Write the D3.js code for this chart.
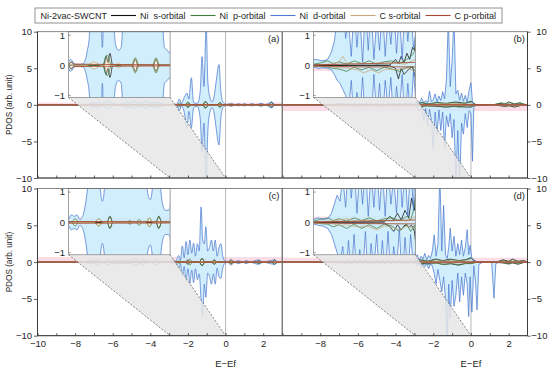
<!DOCTYPE html>
<html>
<head>
<meta charset="utf-8">
<script src="https://cdn.jsdelivr.net/npm/d3@7"></script>
<style>
body { margin: 0; background: #fff; }
svg { font-family: "Liberation Sans", Arial, sans-serif; }
</style>
</head>
<body>
<div class="chartArea"></div>
<script>
// ---- data (energy E-Ef, spin up, spin down) ----
const legendTitle = 'Ni-2vac-SWCNT'
const legendLabels = ['Ni\u00a0 s-orbital', 'Ni\u00a0 p-orbital', 'Ni\u00a0 d-orbital', 'C s-orbital', 'C p-orbital']
const panelLabels = ['(a)', '(b)', '(c)', '(d)']

const xTicks = [-10, -9, -8, -7, -6, -5, -4, -3, -2, -1, 0, 1, 2]
const xLabelValues = [-10, -8, -6, -4, -2, 0, 2]
const yTicks = [-10, -5, 0, 5, 10]
const insetTicks = [-0.1, 0, 0.1]
const insetTickLabels = ['\u22121', '0', '1']

const insetEnergy = [-8.35, -2.95]       // zoomed energy window
const insetRange = [-0.107, 0.112]       // zoomed PDOS window (shown x10)
const insetSpan = [1, 10]                // where the inset sits in main PDOS units
const zoomLink = [[-8.35, 1], [-2.95, 1], [0, -10], [-2.95, -10]]

// pink C p bands [low, high]
const bandMain = { a: [0, 0.3], b: [-0.85, 0], c: [0, 0.7], d: [-0.1, 0.6] }
const bandInset = { a: [-0.006, 0.006], b: [-0.019, -0.003], c: [0, 0.015], d: [0.002, 0.019] }

// panel (a)
const niD_a = [[-10,0,0],[-8.5,0.002,-0.002],[-8.35,0.01,-0.01],[-8.25,0.02,-0.02],[-8.15,0.015,-0.015],[-8.05,0.005,-0.005],
  [-7.8,0.003,-0.003],[-7.6,0.005,-0.005],[-7.45,0.02,-0.02],[-7.35,0.05,-0.05],[-7.25,0.09,-0.09],[-7.1,0.3,-0.3],
  [-6.9,0.2,-0.2],[-6.7,0.4,-0.4],[-6.55,0.06,-0.06],[-6.45,0.3,-0.3],[-6.25,0.5,-0.5],[-6.0,0.2,-0.2],[-5.85,0.07,-0.07],
  [-5.7,0.05,-0.05],[-5.55,0.06,-0.06],[-5.4,0.25,-0.25],[-5.25,0.4,-0.4],[-5.05,0.3,-0.3],[-4.85,0.5,-0.5],[-4.6,0.2,-0.2],
  [-4.4,0.3,-0.3],[-4.2,0.5,-0.5],[-4.0,0.2,-0.2],[-3.8,0.4,-0.4],[-3.6,0.3,-0.3],[-3.4,0.2,-0.2],[-3.25,0.06,-0.06],
  [-3.1,0.05,-0.05],[-2.95,0.04,-0.04],[-2.8,0.1,-0.1],[-2.6,0.05,-0.05],[-2.45,0.8,-0.8],[-2.35,0.15,-0.15],[-2.2,1.0,-1.0],
  [-2.05,1.6,-3.1],[-1.95,0.8,-0.9],[-1.82,3.7,-3.1],[-1.7,0.3,-0.4],[-1.5,0.2,-0.2],[-1.35,1.8,-1.8],[-1.25,6.6,-6.4],
  [-1.15,2.5,-2.5],[-1.03,11,-11],[-0.95,3.5,-4],[-0.85,1.2,-1.2],[-0.72,0.4,-0.4],[-0.6,1.3,-1.3],[-0.5,3.2,-3.2],
  [-0.35,5.5,-5.5],[-0.25,1.8,-1.8],[-0.12,0.3,-0.3],[0.05,0.05,-0.05],[0.3,0.2,-0.2],[0.5,0.03,-0.03],[0.7,0.15,-0.15],
  [0.85,0.03,-0.03],[1.0,0.15,-0.15],[1.2,0.02,-0.02],[1.4,0.15,-0.15],[1.6,0.02,-0.02],[1.9,0.2,-0.2],[2.1,0.02,-0.02],
  [2.45,0.4,-0.4],[2.6,0.02,-0.02],[3,0,0]]
const niS_a = [[-10,0,0],[-6.5,0,0],[-6.35,0.03,-0.03],[-6.25,0.01,-0.01],[-6.15,0.04,-0.04],[-6.0,0,0],[-4.95,0,0],
  [-4.8,0.02,-0.02],[-4.65,0,0],[-3.85,0,0],[-3.7,0.02,-0.02],[-3.55,0,0],[-2.15,0,0],[-2.0,0.3,-0.3],[-1.85,0,0],
  [-1.2,0,0],[-1.05,0.4,-0.4],[-0.9,0,0],[-0.45,0,0],[-0.3,0.3,-0.3],[-0.15,0,0],[2.3,0,0],[2.45,0.35,-0.35],[2.6,0,0],[3,0,0]]
const niP_a = [[-10,0,0],[-8.4,0,0],[-8.2,0.012,-0.012],[-8.0,0,0],[-6.55,0,0],[-6.3,0.035,-0.035],[-6.05,0,0],[-5.0,0,0],
  [-4.8,0.025,-0.025],[-4.6,0,0],[-3.9,0,0],[-3.7,0.025,-0.025],[-3.5,0,0],[-2.6,0,0],[-2.45,0.25,-0.25],[-2.3,0,0],
  [-2.15,0,0],[-2.0,0.4,-0.4],[-1.85,0,0],[-1.25,0,0],[-1.08,0.5,-0.5],[-0.9,0,0],[-0.45,0,0],[-0.3,0.35,-0.35],[-0.15,0,0],
  [0.2,0,0],[0.3,0.15,-0.15],[0.4,0,0],[0.6,0,0],[0.7,0.1,-0.1],[0.8,0,0],[0.9,0,0],[1.0,0.12,-0.12],[1.1,0,0],[1.3,0,0],
  [1.4,0.12,-0.12],[1.5,0,0],[1.8,0,0],[1.9,0.15,-0.15],[2.0,0,0],[2.3,0,0],[2.45,0.3,-0.3],[2.6,0,0],[3,0,0]]
const cS_a = [[-10,0,0],[-7.4,0,0],[-7.0,0.012,-0.012],[-6.6,0,0],[-6.45,0,0],[-6.3,0.02,-0.02],[-6.15,0,0],[-5.9,0,0],
  [-5.7,0.008,-0.008],[-5.5,0,0],[-5.0,0,0],[-4.8,0.02,-0.02],[-4.6,0,0],[-3.9,0,0],[-3.7,0.02,-0.02],[-3.5,0,0],
  [0.15,0,0],[0.3,0.2,-0.2],[0.45,0,0],[3,0,0]]
const cP_a = [[-10,0,0],[-8.35,0.004,-0.004],[-8.2,0.01,-0.01],[-8.05,0.004,-0.004],[3,0,0]]

// panel (b)
const niD_b = [[-10,0,0],[-8.5,0.02,-0.005],[-8.35,0.02,-0.005],[-8.1,0.018,-0.01],[-7.85,0.015,-0.008],[-7.6,0.02,-0.01],
  [-7.4,0.045,-0.015],[-7.25,0.08,-0.03],[-7.1,0.15,-0.05],[-6.95,0.13,-0.06],[-6.8,0.2,-0.08],[-6.65,0.09,-0.1],
  [-6.5,0.15,-0.15],[-6.35,0.03,-0.05],[-6.2,0.2,-0.2],[-6.05,0.06,-0.09],[-5.9,0.18,-0.18],[-5.75,0.01,-0.04],
  [-5.6,0.2,-0.2],[-5.45,0.05,-0.12],[-5.3,0.2,-0.2],[-5.15,0.02,-0.03],[-5.0,0.16,-0.18],[-4.85,0.05,-0.06],
  [-4.7,0.2,-0.2],[-4.55,0.03,-0.05],[-4.4,0.17,-0.15],[-4.25,0.07,-0.04],[-4.1,0.2,-0.2],[-3.95,0.04,-0.07],
  [-3.8,0.18,-0.16],[-3.65,0.02,-0.03],[-3.5,0.2,-0.2],[-3.35,0.08,-0.06],[-3.2,0.2,-0.18],[-3.05,0.06,-0.02],
  [-2.95,0.1,-0.1],[-2.85,0.5,-0.2],[-2.75,0.2,-0.9],[-2.62,0.9,-0.3],[-2.5,0.3,-2.2],[-2.4,0.6,-0.5],[-2.3,0.2,-3.0],
  [-2.2,1.9,-0.6],[-2.1,0.4,-2.0],[-2.0,0.7,-6.0],[-1.9,1.5,-1.0],[-1.8,0.4,-4.0],[-1.7,1.2,-0.7],[-1.6,0.6,-3.5],
  [-1.5,1.8,-1.0],[-1.4,0.8,-5.9],[-1.3,3.5,-1.5],[-1.2,12,-3.0],[-1.1,2.5,-1.2],[-1.0,6,-4.5],[-0.9,12,-2.0],
  [-0.8,1.5,-11],[-0.7,2.0,-3.5],[-0.6,0.6,-11],[-0.5,1.6,-2.5],[-0.4,0.5,-4.0],[-0.3,1.3,-1.2],[-0.2,0.3,-3.1],
  [-0.1,2.0,-0.8],[0.0,3.0,-1.2],[0.08,0.4,-7.7],[0.15,0.05,-0.4],[0.3,0,0],[3,0,0]]
const niS_b = [[-10,0,0],[-4.3,0.001,-0.001],[-4.0,0.02,-0.01],[-3.85,0.005,-0.045],[-3.7,0.03,-0.01],[-3.55,0.01,-0.03],
  [-3.4,0.04,-0.02],[-3.25,0.02,-0.01],[-3.1,0.06,-0.005],[-3.0,0.05,-0.03],[-2.9,0.1,-0.05],[-2.6,0.3,-0.2],[-2.3,0.1,-0.1],
  [-1.8,0.3,-0.2],[-1.3,0.2,-0.3],[-0.8,0.4,-0.2],[-0.3,0.2,-0.3],[0.0,0.5,-0.3],[0.2,0.05,-0.05],[1.2,0.02,-0.02],
  [1.5,0.2,-0.1],[1.8,0.1,-0.2],[2.0,0.4,-0.1],[2.3,0.1,-0.3],[2.6,0.3,-0.1],[2.8,0.05,-0.05],[3,0,0]]
const niP_b = [[-10,0,0],[-8.35,0.004,-0.002],[-8.0,0.008,-0.004],[-7.6,0.015,-0.006],[-7.3,0.006,-0.01],[-7.0,0.012,-0.012],
  [-6.6,0.004,-0.02],[-6.2,0.015,-0.006],[-5.8,0.006,-0.015],[-5.4,0.015,-0.006],[-5.0,0.004,-0.018],[-4.6,0.012,-0.006],
  [-4.2,0.015,-0.012],[-3.8,0.006,-0.02],[-3.4,0.02,-0.006],[-3.1,0.035,-0.005],[-2.95,0.05,-0.02],[-2.6,0.3,-0.1],
  [-2.2,0.1,-0.2],[-1.8,0.35,-0.1],[-1.4,0.1,-0.3],[-1.0,0.3,-0.2],[-0.6,0.2,-0.3],[-0.2,0.3,-0.1],[0.05,0.4,-0.2],
  [0.3,0.02,-0.02],[1.3,0.02,-0.02],[1.6,0.3,-0.1],[1.9,0.1,-0.2],[2.1,0.3,-0.1],[2.4,0.1,-0.2],[2.7,0.2,-0.05],[3,0,0]]
const cS_b = [[-10,0,0],[-7.4,0.004,-0.004],[-7.0,0.012,-0.008],[-6.8,0.03,-0.008],[-6.6,0.008,-0.008],[-6.0,0.004,-0.015],
  [-5.7,0.008,-0.025],[-5.3,0.004,-0.015],[-4.9,0.008,-0.025],[-4.5,0.004,-0.012],[-4.0,0.008,-0.015],[-3.5,0.004,-0.008],
  [-2.95,0.02,-0.02],[-2.0,0.1,-0.1],[-1.0,0.15,-0.1],[0,0.1,-0.1],[0.3,0,0],[3,0,0]]
const cP_b = [[-10,0,0],[-6,0.005,-0.005],[-3,0.01,-0.005],[0,0.05,-0.05],[3,0,0]]

// panel (c)
const niD_c = [[-10,0,0],[-8.5,0.003,-0.003],[-8.35,0.01,-0.01],[-8.2,0.025,-0.025],[-8.05,0.02,-0.02],[-7.9,0.025,-0.025],
  [-7.75,0.01,-0.01],[-7.6,0.02,-0.02],[-7.45,0.06,-0.06],[-7.3,0.13,-0.13],[-7.15,0.2,-0.2],[-7.0,0.15,-0.15],
  [-6.85,0.4,-0.4],[-6.7,0.15,-0.15],[-6.55,0.07,-0.07],[-6.4,0.15,-0.15],[-6.25,0.4,-0.4],[-6.05,0.2,-0.2],
  [-5.85,0.15,-0.15],[-5.65,0.25,-0.25],[-5.45,0.15,-0.15],[-5.25,0.2,-0.2],[-5.05,0.15,-0.15],[-4.85,0.5,-0.5],
  [-4.7,0.4,-0.4],[-4.55,0.15,-0.15],[-4.4,0.4,-0.4],[-4.2,0.12,-0.12],[-4.0,0.075,-0.075],[-3.85,0.15,-0.15],
  [-3.7,0.4,-0.4],[-3.5,0.15,-0.15],[-3.35,0.06,-0.06],[-3.2,0.04,-0.04],[-3.05,0.04,-0.04],[-2.95,0.05,-0.05],
  [-2.8,0.3,-0.3],[-2.65,0.1,-0.1],[-2.5,0.9,-0.9],[-2.4,0.3,-0.3],[-2.3,2.2,-2.0],[-2.2,0.6,-0.6],[-2.1,2.8,-2.6],
  [-2.0,1.0,-0.9],[-1.9,3.0,-2.9],[-1.8,1.2,-1.1],[-1.7,2.6,-2.8],[-1.6,0.8,-0.9],[-1.5,2.5,-2.4],[-1.4,1.5,-1.6],
  [-1.3,7.5,-5.2],[-1.22,3.0,-7.4],[-1.13,2.5,-3.0],[-1.05,4.8,-4.8],[-0.95,1.5,-1.5],[-0.85,2.0,-2.0],[-0.75,3.0,-3.0],
  [-0.65,1.5,-1.6],[-0.55,3.0,-3.0],[-0.45,0.8,-0.8],[-0.35,2.0,-2.0],[-0.25,2.5,-2.2],[-0.15,0.8,-0.8],[-0.05,0.2,-0.2],
  [0.1,0.05,-0.05],[0.3,0.4,-0.4],[0.45,0.05,-0.05],[0.7,0.2,-0.2],[0.9,0.03,-0.03],[1.1,0.2,-0.2],[1.3,0.03,-0.03],
  [1.75,0.3,-0.3],[2.0,0.03,-0.03],[2.6,0.3,-0.3],[2.8,0.02,-0.02],[3,0,0]]
const niS_c = [[-10,0,0],[-6.3,0,0],[-6.15,0.02,-0.02],[-6.0,0,0],[-3.7,0,0],[-3.55,0.02,-0.02],[-3.4,0,0],[-2.15,0,0],
  [-2.0,0.3,-0.3],[-1.85,0,0],[-1.4,0,0],[-1.25,0.5,-0.5],[-1.1,0,0],[-0.75,0,0],[-0.6,0.3,-0.3],[-0.45,0,0],[0.15,0,0],
  [0.3,0.2,-0.2],[0.45,0,0],[1.6,0,0],[1.75,0.2,-0.2],[1.9,0,0],[2.45,0,0],[2.6,0.3,-0.3],[2.75,0,0],[3,0,0]]
const niP_c = [[-10,0,0],[-8.2,0,0],[-8.0,0.012,-0.012],[-7.8,0,0],[-6.95,0,0],[-6.75,0.012,-0.012],[-6.55,0,0],[-6.3,0,0],
  [-6.15,0.02,-0.02],[-6.0,0,0],[-5.25,0,0],[-5.1,0.006,-0.006],[-4.95,0,0],[-4.75,0,0],[-4.6,0.01,-0.01],[-4.45,0,0],
  [-4.2,0,0],[-4.05,0.015,-0.015],[-3.9,0,0],[-3.7,0,0],[-3.55,0.02,-0.02],[-3.4,0,0],[-2.6,0,0],[-2.45,0.2,-0.2],
  [-2.3,0,0],[-2.05,0,0],[-1.9,0.4,-0.4],[-1.75,0,0],[-1.4,0,0],[-1.25,0.5,-0.5],[-1.1,0,0],[-0.75,0,0],[-0.6,0.3,-0.3],
  [-0.45,0,0],[0.15,0,0],[0.3,0.2,-0.2],[0.45,0,0],[0.6,0,0],[0.7,0.1,-0.1],[0.8,0,0],[1.0,0,0],[1.1,0.15,-0.15],[1.2,0,0],
  [1.6,0,0],[1.75,0.2,-0.2],[1.9,0,0],[2.45,0,0],[2.6,0.3,-0.3],[2.75,0,0],[3,0,0]]
const cS_c = [[-10,0,0],[-7.0,0,0],[-6.75,0.012,-0.012],[-6.5,0,0],[-4.25,0,0],[-4.05,0.015,-0.015],[-3.85,0,0],[0.1,0,0],
  [0.3,0.3,-0.3],[0.5,0,0],[3,0,0]]
const cP_c = [[-10,0,0],[-8.1,0.003,-0.003],[3,0,0]]

// panel (d)
const niD_d = [[-10,0,0],[-8.5,0.01,-0.005],[-8.35,0.01,-0.005],[-8.1,0.015,-0.01],[-7.85,0.01,-0.012],[-7.6,0.012,-0.02],
  [-7.4,0.03,-0.04],[-7.25,0.06,-0.07],[-7.1,0.09,-0.1],[-6.95,0.07,-0.13],[-6.8,0.15,-0.08],[-6.65,0.05,-0.2],
  [-6.5,0.2,-0.06],[-6.35,0.08,-0.18],[-6.2,0.2,-0.04],[-6.05,0.03,-0.2],[-5.9,0.18,-0.09],[-5.75,0.06,-0.18],
  [-5.6,0.2,-0.03],[-5.45,0.02,-0.2],[-5.3,0.17,-0.07],[-5.15,0.05,-0.15],[-5.0,0.2,-0.04],[-4.85,0.04,-0.2],
  [-4.7,0.18,-0.06],[-4.55,0.02,-0.18],[-4.4,0.2,-0.03],[-4.25,0.06,-0.2],[-4.1,0.15,-0.08],[-3.95,0.03,-0.16],
  [-3.8,0.2,-0.02],[-3.65,0.05,-0.2],[-3.5,0.18,-0.05],[-3.35,0.02,-0.18],[-3.2,0.2,-0.04],[-3.05,0.04,-0.15],
  [-2.95,0.3,-0.1],[-2.85,1.0,-0.5],[-2.75,0.2,-0.2],[-2.65,0.8,-0.8],[-2.55,0.4,-0.3],[-2.45,1.2,-0.6],[-2.35,0.3,-0.2],
  [-2.25,0.9,-0.9],[-2.15,0.5,-0.3],[-2.05,1.5,-0.5],[-1.95,3.7,-1.5],[-1.85,0.8,-3.0],[-1.75,2.5,-1.0],[-1.65,12,-2.5],
  [-1.55,1.5,-4.0],[-1.45,7.7,-2.0],[-1.35,1.0,-5.0],[-1.26,0.5,-11],[-1.18,2.0,-3.0],[-1.1,4.6,-7.6],[-1.0,1.5,-2.5],
  [-0.9,3.5,-6.0],[-0.8,0.8,-4.5],[-0.7,2.5,-1.5],[-0.6,1.0,-5.4],[-0.5,3.0,-2.0],[-0.4,0.8,-4.5],[-0.3,2.0,-1.5],
  [-0.2,4.4,-3.0],[-0.12,1.0,-7.4],[-0.05,2.3,-2.0],[0.05,0.5,-6.8],[0.15,0.1,-0.5],[0.25,0.2,-3.0],[0.32,0,-6.5],
  [0.42,0.05,-0.3],[0.6,0.02,-0.05],[1.1,0.02,-0.05],[1.22,0.1,-4.9],[1.32,0.05,-0.2],[1.5,0.02,-0.05],[3,0,0]]
const niS_d = [[-10,0,0],[-4.6,0.002,-0.002],[-4.3,0.02,-0.015],[-4.1,0.008,-0.03],[-3.9,0.03,-0.008],[-3.7,0.008,-0.025],
  [-3.5,0.04,-0.008],[-3.3,0.015,-0.015],[-3.15,0.08,-0.01],[-3.0,0.04,-0.03],[-2.7,0.3,-0.2],[-2.3,0.1,-0.2],[-1.9,0.4,-0.1],
  [-1.5,0.2,-0.3],[-1.1,0.4,-0.2],[-0.7,0.2,-0.4],[-0.3,0.3,-0.2],[0.0,0.6,-0.2],[0.2,0.05,-0.05],[1.4,0.05,-0.05],
  [1.7,0.3,-0.1],[2.0,0.1,-0.2],[2.2,0.4,-0.1],[2.5,0.1,-0.3],[2.8,0.2,-0.05],[3,0,0]]
const niP_d = [[-10,0,0],[-8.35,0.004,-0.002],[-8.0,0.01,-0.004],[-7.6,0.015,-0.006],[-7.3,0.006,-0.015],[-7.0,0.012,-0.008],
  [-6.6,0.004,-0.02],[-6.2,0.015,-0.006],[-5.8,0.006,-0.02],[-5.4,0.015,-0.008],[-5.0,0.005,-0.02],[-4.6,0.012,-0.006],
  [-4.2,0.015,-0.012],[-3.8,0.006,-0.03],[-3.4,0.02,-0.006],[-3.2,0.008,-0.03],[-3.0,0.05,-0.01],[-2.6,0.3,-0.2],
  [-2.2,0.1,-0.3],[-1.8,0.4,-0.1],[-1.4,0.1,-0.35],[-1.0,0.35,-0.2],[-0.6,0.2,-0.4],[-0.2,0.35,-0.1],[0.05,0.5,-0.2],
  [0.3,0.02,-0.02],[1.4,0.02,-0.02],[1.7,0.3,-0.1],[2.0,0.1,-0.3],[2.2,0.35,-0.1],[2.5,0.1,-0.2],[2.8,0.2,-0.05],[3,0,0]]
const cS_d = [[-10,0,0],[-7.4,0.004,-0.004],[-7.0,0.008,-0.01],[-6.6,0.012,-0.008],[-6.0,0.004,-0.015],[-5.5,0.008,-0.012],
  [-5.0,0.004,-0.025],[-4.6,0.008,-0.012],[-4.2,0.004,-0.015],[-3.8,0.008,-0.025],[-3.4,0.004,-0.012],[-2.95,0.02,-0.02],
  [-2.0,0.1,-0.1],[-1.0,0.15,-0.1],[0,0.1,-0.1],[0.3,0,0],[3,0,0]]
const cP_d = [[-10,0,0],[-6,0.004,-0.004],[-3,0.008,-0.005],[0,0.05,-0.05],[3,0,0]]

// ---- layout ----
const width = 550, height = 372
const xDomain = [-10, 3], yDomain = [-10, 10]
const keys = ['s', 'p', 'd', 'cs', 'cp']
const colors = { s: '#111111', p: '#3d7f3d', d: '#4d79d0', cs: '#c9a878', cp: '#a84a32' }
const lensFills = { s: '#ffffff', p: '#f2f8f2', d: '#c8ebfa', cs: '#fbf6ee', cp: '#fbe6ea' }
const bandColor = '#fadde6'

const panels = [
  { id: 'a', x0: 37.5, x1: 282, y0: 31.7, y1: 178, left: true, labels: false, lens: true, curve: d3.curveMonotoneX,
    series: { s: niS_a, p: niP_a, d: niD_a, cs: cS_a, cp: cP_a } },
  { id: 'b', x0: 282.5, x1: 527.5, y0: 31.7, y1: 178, left: false, labels: false, lens: false, curve: d3.curveLinear,
    series: { s: niS_b, p: niP_b, d: niD_b, cs: cS_b, cp: cP_b } },
  { id: 'c', x0: 37.5, x1: 282, y0: 188.5, y1: 335.7, left: true, labels: true, lens: true, curve: d3.curveMonotoneX,
    series: { s: niS_c, p: niP_c, d: niD_c, cs: cS_c, cp: cP_c } },
  { id: 'd', x0: 282.5, x1: 527.5, y0: 188.5, y1: 335.7, left: false, labels: true, lens: false, curve: d3.curveLinear,
    series: { s: niS_d, p: niP_d, d: niD_d, cs: cS_d, cp: cP_d } }
]

const svg = d3.select('.chartArea').append('svg')
    .attr('width', width)
    .attr('height', height)
const defs = svg.append('defs')

// draws fills then lines for both spins
function drawSeries(g, series, x, y, curve, lens) {
  const filled = lens ? ['d', 's', 'p', 'cs'] : ['d']
  filled.forEach(k => {
    [1, 2].forEach(j => {
      g.append('path').datum(series[k])
        .attr('d', d3.area().x(d => x(d[0])).y0(y(0)).y1(d => y(d[j])).curve(curve))
        .attr('fill', lensFills[k])
        .attr('opacity', k === 'd' ? 0.85 : 0.8)
    })
  })
  keys.forEach(k => {
    [1, 2].forEach(j => {
      g.append('path').datum(series[k])
        .attr('d', d3.line().x(d => x(d[0])).y(d => y(d[j])).curve(curve))
        .attr('fill', 'none')
        .attr('stroke', colors[k])
        .attr('stroke-width', k === 'cp' ? 0.85 : 0.75)
    })
  })
}

function styleAxis(g) {
  g.select('.domain').remove()
  g.selectAll('line').attr('stroke', '#333').attr('stroke-width', 0.8)
  g.selectAll('text').attr('font-size', 9.5).attr('fill', '#262626')
    .attr('font-family', '"Liberation Sans", Arial, sans-serif')
}

panels.forEach((pn, i) => {
  const x = d3.scaleLinear().domain(xDomain).range([pn.x0, pn.x1])
  const y = d3.scaleLinear().domain(yDomain).range([pn.y1, pn.y0])
  const g = svg.append('g')

  defs.append('clipPath').attr('id', 'clip-' + pn.id)
    .append('rect')
    .attr('x', pn.x0).attr('y', pn.y0)
    .attr('width', pn.x1 - pn.x0).attr('height', pn.y1 - pn.y0)
  const plot = g.append('g').attr('clip-path', `url(#clip-${pn.id})`)

  const band = bandMain[pn.id]
  plot.append('rect')
    .attr('x', pn.x0).attr('width', pn.x1 - pn.x0)
    .attr('y', y(band[1])).attr('height', y(band[0]) - y(band[1]))
    .attr('fill', bandColor)

  plot.append('line')
    .attr('x1', x(0)).attr('x2', x(0)).attr('y1', pn.y0).attr('y2', pn.y1)
    .attr('stroke', '#b8b8b8').attr('stroke-width', 1)

  drawSeries(plot, pn.series, x, y, pn.curve, pn.lens)

  // zoom link (grey trapezoid)
  const link = d3.line().x(d => x(d[0])).y(d => y(d[1]))
  plot.append('path').attr('d', link(zoomLink) + 'Z')
    .attr('fill', '#e6e6e6').attr('opacity', 0.85)
  plot.append('path').attr('d', link([zoomLink[0], zoomLink[3]]))
    .attr('stroke', '#555').attr('stroke-width', 0.7).attr('stroke-dasharray', '2,1.6').attr('fill', 'none')
  plot.append('path').attr('d', link([zoomLink[1], zoomLink[2]]))
    .attr('stroke', '#555').attr('stroke-width', 0.7).attr('stroke-dasharray', '2,1.6').attr('fill', 'none')

  // inset
  const ix0 = x(insetEnergy[0]), ix1 = x(insetEnergy[1])
  const iy = d3.scaleLinear().domain(insetRange).range([y(insetSpan[0]), y(insetSpan[1])])
  defs.append('clipPath').attr('id', 'iclip-' + pn.id)
    .append('rect')
    .attr('x', ix0).attr('y', y(insetSpan[1]))
    .attr('width', ix1 - ix0).attr('height', y(insetSpan[0]) - y(insetSpan[1]))
  const inset = g.append('g')
  inset.append('rect')
    .attr('x', ix0).attr('y', y(insetSpan[1]))
    .attr('width', ix1 - ix0).attr('height', y(insetSpan[0]) - y(insetSpan[1]))
    .attr('fill', '#fff')
  const iplot = inset.append('g').attr('clip-path', `url(#iclip-${pn.id})`)
  const ib = bandInset[pn.id]
  iplot.append('rect')
    .attr('x', ix0).attr('width', ix1 - ix0)
    .attr('y', iy(ib[1])).attr('height', iy(ib[0]) - iy(ib[1]))
    .attr('fill', bandColor)
  drawSeries(iplot, pn.series, x, iy, pn.curve, pn.lens)
  inset.append('rect')
    .attr('x', ix0).attr('y', y(insetSpan[1]))
    .attr('width', ix1 - ix0).attr('height', y(insetSpan[0]) - y(insetSpan[1]))
    .attr('fill', 'none').attr('stroke', '#8a8a8a').attr('stroke-width', 0.8)
  insetTicks.forEach((t, k) => {
    inset.append('line')
      .attr('x1', ix0).attr('x2', ix0 + 2).attr('y1', iy(t)).attr('y2', iy(t))
      .attr('stroke', '#666').attr('stroke-width', 0.7)
    inset.append('text')
      .attr('x', ix0 - 3.5).attr('y', iy(t)).attr('dy', '0.34em')
      .attr('text-anchor', 'end').attr('font-size', 9.5).attr('fill', '#262626')
      .text(insetTickLabels[k])
  })

  // frame and axes
  g.append('rect')
    .attr('x', pn.x0).attr('y', pn.y0)
    .attr('width', pn.x1 - pn.x0).attr('height', pn.y1 - pn.y0)
    .attr('fill', 'none').attr('stroke', '#6a6a6a').attr('stroke-width', 0.8)
  g.append('line')
    .attr('x1', pn.left ? pn.x0 : pn.x1).attr('x2', pn.left ? pn.x0 : pn.x1)
    .attr('y1', pn.y0).attr('y2', pn.y1)
    .attr('stroke', '#333').attr('stroke-width', 0.9)
  g.append('line')
    .attr('x1', pn.x0).attr('x2', pn.x1).attr('y1', pn.y1).attr('y2', pn.y1)
    .attr('stroke', '#333').attr('stroke-width', 0.9)

  const yAxis = pn.left
    ? d3.axisLeft(y).tickValues(yTicks).tickSize(3.5).tickPadding(2)
    : d3.axisRight(y).tickValues(yTicks).tickSize(3).tickPadding(0.8)
  const yg = g.append('g')
    .attr('transform', `translate(${pn.left ? pn.x0 : pn.x1},0)`)
    .call(yAxis)
    .call(styleAxis)
  if (!pn.left) {
    // right labels line up their digits, minus sign hangs left
    yg.selectAll('text').attr('dx', d => d >= 0 ? 5 : 0)
  }

  const fmt = d3.format('d')
  const xAxis = d3.axisBottom(x).tickValues(xTicks).tickSize(-2.5).tickPadding(5)
    .tickFormat(d => pn.labels && xLabelValues.includes(d) && (pn.left || d !== -10) ? fmt(d) : '')
  g.append('g')
    .attr('transform', `translate(0,${pn.y1})`)
    .call(xAxis)
    .call(styleAxis)

  g.append('text')
    .attr('x', pn.x1 - 2.5).attr('y', pn.y0 + 10.5)
    .attr('text-anchor', 'end').attr('font-size', 9.5).attr('fill', '#262626')
    .text(panelLabels[i])

  if (pn.left) {
    g.append('text')
      .attr('transform', `translate(12,${(pn.y0 + pn.y1) / 2}) rotate(-90)`)
      .attr('text-anchor', 'middle').attr('font-size', 8.2).attr('fill', '#262626')
      .text('PDOS (arb. unit)')
  }
  if (pn.labels) {
    g.append('text')
      .attr('x', x(0)).attr('y', 366.5)
      .attr('text-anchor', 'middle').attr('font-size', 9.5).attr('fill', '#262626')
      .text('E\u2212Ef')
  }
})

// legend
const legend = svg.append('g').attr('font-size', 9).attr('fill', '#262626')
legend.append('rect')
    .attr('x', 35).attr('y', 8).attr('width', 467).attr('height', 15)
    .attr('fill', '#fff').attr('stroke', '#777').attr('stroke-width', 0.8)
let lx = 40.5
const title = legend.append('text').attr('x', lx).attr('y', 18.7).text(legendTitle)
lx += title.node().getComputedTextLength() + 4
legendLabels.forEach((lab, k) => {
  legend.append('line')
    .attr('x1', lx).attr('x2', lx + 25).attr('y1', 15.5).attr('y2', 15.5)
    .attr('stroke', colors[keys[k]]).attr('stroke-width', 1.1)
  lx += 29
  const t = legend.append('text').attr('x', lx).attr('y', 18.7).text(lab)
  lx += t.node().getComputedTextLength() + 5
})
</script>
</body>
</html>
